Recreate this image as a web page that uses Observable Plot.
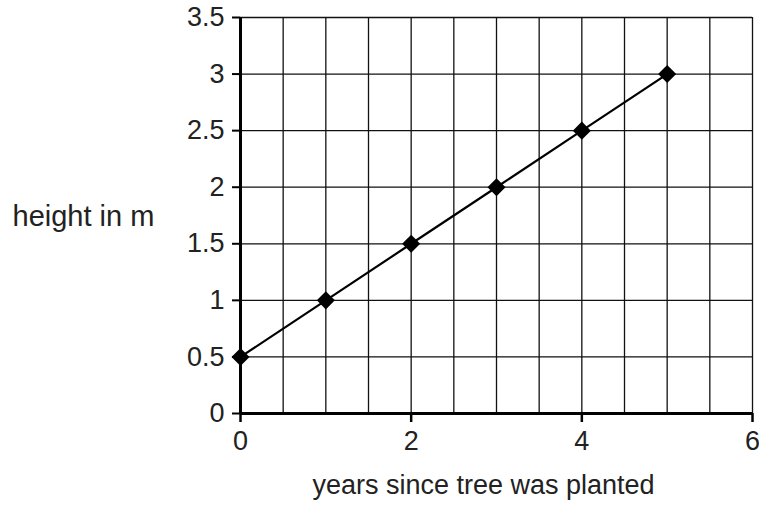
<!DOCTYPE html>
<html>
<head>
<meta charset="utf-8">
<script src="https://cdn.jsdelivr.net/npm/d3@7"></script>
<script src="https://cdn.jsdelivr.net/npm/@observablehq/plot@0.6"></script>
<style>
  html, body { margin: 0; padding: 0; background: #fff; }
</style>
</head>
<body>
<div id="chart"></div>
<script>
const years = [0, 1, 2, 3, 4, 5];
const heights = [0.5, 1, 1.5, 2, 2.5, 3];
const xTicks = [0, 2, 4, 6];
const yTicks = [0, 0.5, 1, 1.5, 2, 2.5, 3, 3.5];
const xGridLines = [0, 0.5, 1, 1.5, 2, 2.5, 3, 3.5, 4, 4.5, 5, 5.5, 6];
const yTitle = "height in m";
const xTitle = "years since tree was planted";

const data = years.map((y, i) => ({year: y, height: heights[i]}));

const chart = Plot.plot({
  width: 759,
  height: 506,
  marginLeft: 240,
  marginRight: 7,
  marginTop: 17,
  marginBottom: 93,
  x: {domain: [0, 6]},
  y: {domain: [0, 3.5]},
  style: {
    fontFamily: "'Liberation Sans', Arial, Helvetica, sans-serif",
    fontSize: "27px",
    color: "#222",
    background: "#fff"
  },
  marks: [
    Plot.gridX(xGridLines, {stroke: "#111", strokeOpacity: 1, strokeWidth: 1.3}),
    Plot.gridY(yTicks, {stroke: "#111", strokeOpacity: 1, strokeWidth: 1.3}),
    Plot.axisY(yTicks, {tickSize: 8, tickPadding: 8, label: null, tickFormat: d => String(d), fontSize: 27, stroke: "#000", strokeWidth: 2}),
    Plot.axisX(xTicks, {tickSize: 9, tickPadding: 8, label: null, tickFormat: d => String(d), fontSize: 27, stroke: "#000", strokeWidth: 2.5}),
    Plot.ruleY([0], {stroke: "#000", strokeWidth: 3}),
    Plot.ruleX([0], {stroke: "#000", strokeWidth: 3}),
    Plot.line(data, {x: "year", y: "height", stroke: "#000", strokeWidth: 2.2}),
    Plot.dot(data, {x: "year", y: "height", symbol: "square", r: 7.2, fill: "#000", stroke: "none", rotate: 45}),
    Plot.text([yTitle], {text: d => d, frameAnchor: "left", dx: -228, dy: 1, textAnchor: "start", fontSize: 29, fill: "#222"}),
    Plot.text([xTitle], {text: d => d, frameAnchor: "bottom", dy: 80, dx: -13, fontSize: 27, fill: "#222"})
  ]
});

document.getElementById("chart").appendChild(chart);
</script>
</body>
</html>
